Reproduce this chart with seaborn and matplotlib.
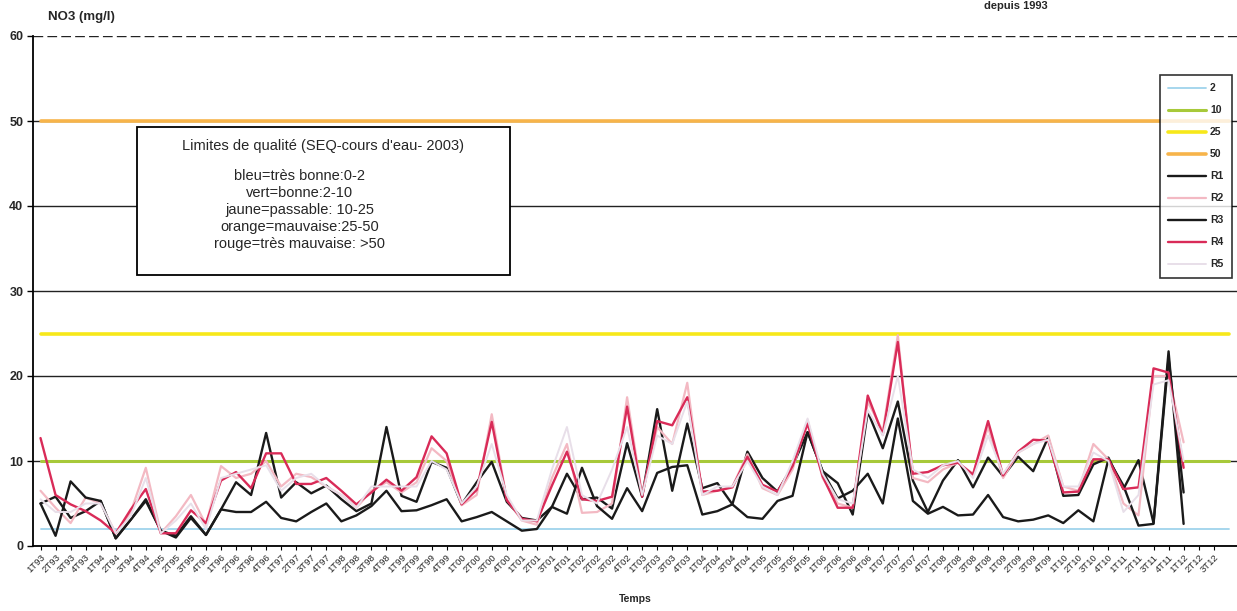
import numpy as np
import pandas as pd
import matplotlib
matplotlib.use("Agg")
import matplotlib.pyplot as plt
import seaborn as sns
from matplotlib.patches import Rectangle

# ---------------- data ----------------
quarters = ["1T93","2T93","3T93","4T93","1T94","2T94","3T94","4T94","1T95","2T95","3T95","4T95",
            "1T96","2T96","3T96","4T96","1T97","2T97","3T97","4T97","1T98","2T98","3T98","4T98",
            "1T99","2T99","3T99","4T99","1T00","2T00","3T00","4T00","1T01","2T01","3T01","4T01",
            "1T02","2T02","3T02","4T02","1T03","2T03","3T03","4T03","1T04","2T04","3T04","4T04",
            "1T05","2T05","3T05","4T05","1T06","2T06","3T06","4T06","1T07","2T07","3T07","4T07",
            "1T08","2T08","3T08","4T08","1T09","2T09","3T09","4T09","1T10","2T10","3T10","4T10",
            "1T11","2T11","3T11","4T11","1T12","2T12","3T12"]

R1 = [5.0, 5.8, 3.3, 4.1, 5.3, 0.9, 3.1, 5.5, 1.8, 1.2, 3.5, 1.3, 4.3, 7.5, 6.0, 13.3, 5.7, 7.5, 6.2, 7.1,
      5.5, 4.1, 5.0, 14.0, 5.9, 5.2, 9.9, 9.2, 4.9, 7.5, 9.9, 5.2, 3.3, 3.0, 4.6, 8.5, 5.5, 5.7, 4.4, 12.1,
      5.8, 16.1, 6.5, 14.4, 6.8, 7.4, 4.9, 11.1, 8.0, 6.4, 9.4, 13.4, 8.8, 7.4, 3.7, 15.8, 11.5, 17.0, 7.7, 4.0,
      7.7, 10.1, 6.9, 10.4, 8.2, 10.5, 8.8, 12.8, 5.9, 6.0, 9.6, 10.4, 6.7, 10.1, 2.7, 22.9, 2.6]
R2 = [6.5, 4.5, 2.7, 5.7, 5.0, 1.5, 4.0, 9.2, 1.5, 3.5, 6.0, 2.5, 9.4, 8.0, 8.5, 10.0, 7.0, 8.5, 8.1, 7.0,
      6.0, 4.5, 6.5, 7.5, 6.3, 7.5, 11.5, 10.0, 4.8, 6.0, 15.5, 5.5, 3.0, 2.5, 8.0, 12.0, 3.9, 4.0, 5.0, 17.5,
      6.0, 14.0, 12.0, 19.2, 6.0, 6.5, 7.0, 10.8, 6.8, 6.0, 9.0, 14.8, 8.0, 5.0, 4.5, 17.0, 13.5, 24.8, 8.0, 7.5,
      9.0, 9.8, 8.5, 14.0, 8.0, 11.0, 12.0, 13.0, 7.0, 6.5, 12.0, 10.2, 5.0, 3.6, 20.0, 20.0, 12.2]
R3 = [5.0, 1.2, 7.6, 5.7, 5.3, 0.9, 3.1, 5.3, 1.8, 1.0, 3.3, 1.3, 4.3, 4.0, 4.0, 5.2, 3.3, 2.9, 4.0, 5.0,
      2.9, 3.6, 4.7, 6.5, 4.1, 4.2, 4.8, 5.5, 2.9, 3.4, 4.0, 2.9, 1.8, 2.0, 4.6, 3.8, 9.2, 4.7, 3.2, 6.8,
      4.1, 8.6, 9.3, 9.5, 3.7, 4.1, 4.9, 3.4, 3.2, 5.3, 5.9, 13.4, 8.8, 5.6, 6.5, 8.5, 5.0, 15.0, 5.3, 3.8,
      4.6, 3.6, 3.7, 6.0, 3.4, 2.9, 3.1, 3.6, 2.7, 4.2, 2.9, 10.2, 7.1, 2.4, 2.6, 22.1, 6.3]
R4 = [12.7, 6.0, 4.9, 4.1, 3.0, 1.5, 4.3, 6.7, 1.5, 1.5, 4.2, 2.7, 7.7, 8.7, 6.8, 10.9, 10.9, 7.3, 7.3, 8.0,
      6.5, 4.9, 6.3, 7.8, 6.5, 8.1, 12.9, 10.9, 4.9, 6.6, 14.6, 5.4, 3.2, 2.9, 7.1, 11.1, 5.5, 5.3, 5.8, 16.4,
      5.8, 14.7, 14.2, 17.5, 6.4, 6.5, 6.9, 10.5, 7.2, 6.4, 9.4, 14.4, 8.2, 4.5, 4.5, 17.7, 13.1, 24.0, 8.5, 8.7,
      9.5, 9.8, 8.4, 14.7, 8.3, 11.1, 12.5, 12.4, 6.3, 6.4, 10.2, 10.2, 6.7, 6.9, 20.9, 20.4, 9.2]
R5 = [5.5, 4.0, 4.0, 5.0, 5.0, 1.5, 3.5, 8.0, 1.5, 3.0, 5.0, 2.0, 8.0, 8.5, 9.0, 9.5, 6.5, 8.0, 8.5, 7.0,
      6.0, 4.5, 7.0, 7.0, 7.0, 7.0, 10.0, 9.0, 5.0, 7.0, 12.0, 6.0, 3.0, 3.0, 9.0, 14.0, 6.0, 5.0, 9.0, 14.0,
      6.0, 13.0, 12.0, 17.0, 6.0, 7.0, 7.0, 10.0, 7.0, 6.0, 10.0, 15.0, 8.5, 5.5, 5.0, 16.0, 13.0, 20.0, 9.0, 8.0,
      9.5, 10.0, 8.0, 13.0, 8.5, 11.0, 12.0, 12.5, 7.0, 7.0, 11.0, 10.0, 4.0, 6.0, 19.0, 19.5, 10.0]

limits = [2, 10, 25, 50]
limit_names = ["2", "10", "25", "50"]

box_title = "Limites de qualité (SEQ-cours d'eau- 2003)"
box_lines = ["bleu=très bonne:0-2", "vert=bonne:2-10", "jaune=passable: 10-25",
             "orange=mauvaise:25-50", "rouge=très mauvaise: >50"]

# ---------------- style ----------------
sns.set_style("white")
plt.rcParams['font.family'] = ['Liberation Sans', 'DejaVu Sans']

fig = plt.figure(figsize=(12.37, 6.11), dpi=100)
ax = fig.add_axes([33/1237, 1 - 546/611, 1 - 33/1237, (546 - 36)/611])

n = len(quarters)
xs_all = np.arange(n)
xs_lim = np.arange(n + 1)

lim_colors = ["#9fd3ec", "#a7c93a", "#f7e81a", "#f7b44a"]
lim_widths = [1.3, 2.2, 2.6, 2.6]
for name, val, col, lw in zip(limit_names, limits, lim_colors, lim_widths):
    sns.lineplot(x=xs_lim, y=np.full(len(xs_lim), float(val)), color=col, linewidth=lw, label=name, ax=ax)

series = {"R1": R1, "R2": R2, "R3": R3, "R4": R4, "R5": R5}
s_colors = {"R1": "#1a1a1a", "R2": "#f3b9c3", "R3": "#1a1a1a", "R4": "#d92b58", "R5": "#e8dfe9"}
s_widths = {"R1": 1.7, "R2": 1.6, "R3": 1.7, "R4": 1.7, "R5": 1.4}
for name, vals in series.items():
    xs = np.arange(len(vals))
    sns.lineplot(x=xs, y=vals, color=s_colors[name], linewidth=s_widths[name],
                 label=name, ax=ax, sort=False, estimator=None)

ax.set_ylim(0, 60)
ax.set_xlim(-0.5, 79.55)
ax.set_yticks([0, 10, 20, 30, 40, 50, 60])
ax.set_yticklabels(["0", "10", "20", "30", "40", "50", "60"], fontsize=9, fontweight='bold')
ax.set_xticks(xs_all)
ax.set_xticklabels(quarters, rotation=45, ha='right', rotation_mode='anchor', fontsize=6.8)
ax.tick_params(axis='y', length=4, width=1, color='black', direction='out', pad=3, left=True)
ax.tick_params(axis='x', length=3, width=0.8, color='black', direction='out', pad=2, bottom=True)

ax.yaxis.grid(True, color='#222222', linewidth=1.0)
ax.set_axisbelow(True)
glines = ax.get_ygridlines()
glines[-1].set_linestyle((0, (7, 3)))
for side in ["top", "right"]:
    ax.spines[side].set_visible(False)
ax.spines["left"].set_color("black")
ax.spines["left"].set_linewidth(1.3)
ax.spines["bottom"].set_color("black")
ax.spines["bottom"].set_linewidth(1.3)

ax.set_xlabel("Temps", fontsize=7.5, fontweight='bold', labelpad=14)
ax.set_ylabel("")
fig.text(48/1237, 1 - 17/611, "NO3 (mg/l)", fontsize=9.5, fontweight='bold', va='center', ha='left')
fig.text(1048/1237, 0.999, "depuis 1993", fontsize=8, fontweight='bold', va='top', ha='right')

leg = ax.legend(loc='upper left', bbox_to_anchor=(1160/1237, 1 - 75/611), bbox_transform=fig.transFigure,
                frameon=True, fancybox=False, edgecolor='black', fontsize=7.5, labelspacing=1.15,
                handlelength=3.6, handletextpad=0.4, borderpad=0.8, borderaxespad=0)
leg.get_frame().set_linewidth(1.2)
for t in leg.get_texts():
    t.set_fontweight('bold')

# quality-limits text box
bx0, bx1 = 137/1237, 510/1237
by0, by1 = 1 - 275/611, 1 - 127/611
fig.patches.append(Rectangle((bx0, by0), bx1 - bx0, by1 - by0, transform=fig.transFigure,
                             facecolor='white', edgecolor='black', linewidth=1.3, zorder=5))
fig.text((bx0 + bx1) / 2, 1 - 146/611, box_title, fontsize=10.5, ha='center', va='center', zorder=6)
for k, line in enumerate(box_lines):
    fig.text(300/1237, 1 - (176 + 17 * k)/611, line, fontsize=10.5, ha='center', va='center', zorder=6)

fig.savefig("out.png", dpi=100)
